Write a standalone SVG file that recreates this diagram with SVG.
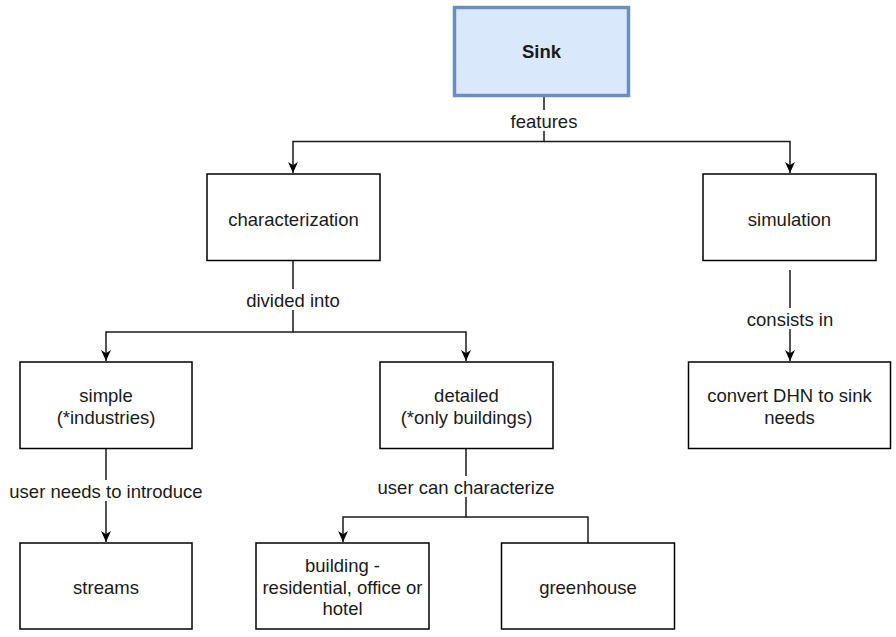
<svg xmlns="http://www.w3.org/2000/svg" width="896" height="637" viewBox="0 0 896 637">
  <style>
    .box { fill: #ffffff; stroke: #000000; stroke-width: 1.5; }
    .root { fill: #dae8fc; stroke: #6c8ebf; stroke-width: 3.5; }
    text { font-family: "Liberation Sans", Arial, sans-serif; font-size: 18.5px; fill: #1a1a1a; text-anchor: middle; dominant-baseline: central; }
    .bold { font-weight: bold; }
    .edge { fill: none; stroke: #1a1a1a; stroke-width: 1.5; }
    .lbl { fill: #ffffff; }
  </style>
  <defs>
    <marker id="arrow" viewBox="0 0 10 10" refX="10" refY="5" markerWidth="11" markerHeight="11" markerUnits="userSpaceOnUse" orient="auto">
      <path d="M0,0.5 L10,5 L0,9.5 L3,5 Z" fill="#000000"/>
    </marker>
  </defs>

  <g id="connectors">
    <path class="edge" d="M544,96 V141.5 H293 V173" marker-end="url(#arrow)"/>
    <path class="edge" d="M544,141.5 H790 V173" marker-end="url(#arrow)"/>
    <path class="edge" d="M293,261 V332 H106 V361" marker-end="url(#arrow)"/>
    <path class="edge" d="M293,332 H466 V361" marker-end="url(#arrow)"/>
    <path class="edge" d="M790,270 V361" marker-end="url(#arrow)"/>
    <path class="edge" d="M106,449 V542" marker-end="url(#arrow)"/>
    <path class="edge" d="M466,449 V517 H343 V542" marker-end="url(#arrow)"/>
    <path class="edge" d="M466,517 H588 V543"/>

    <rect class="lbl" x="506" y="110" width="76" height="21"/>
    <text x="544" y="121">features</text>
    <rect class="lbl" x="241" y="289" width="104" height="21"/>
    <text x="293" y="300">divided into</text>
    <rect class="lbl" x="741" y="308" width="98" height="21"/>
    <text x="790" y="319">consists in</text>
    <rect class="lbl" x="6" y="480" width="201" height="21"/>
    <text x="106" y="491">user needs to introduce</text>
    <rect class="lbl" x="373" y="476" width="186" height="21"/>
    <text x="466" y="487">user can characterize</text>
  </g>

  <g id="sink">
    <rect class="root" x="454.5" y="7.5" width="174" height="88"/>
    <text class="bold" x="541.5" y="51">Sink</text>
  </g>
  <g id="characterization">
    <rect class="box" x="207" y="174" width="173" height="86.5"/>
    <text x="293.5" y="219">characterization</text>
  </g>
  <g id="simulation">
    <rect class="box" x="703" y="174" width="173" height="86.5"/>
    <text x="789.5" y="219">simulation</text>
  </g>
  <g id="simple">
    <rect class="box" x="20" y="362" width="172" height="86.5"/>
    <text x="106" y="395.5">simple</text>
    <text x="106" y="417.5">(*industries)</text>
  </g>
  <g id="detailed">
    <rect class="box" x="380" y="362" width="173" height="86.5"/>
    <text x="466.5" y="395.5">detailed</text>
    <text x="466.5" y="417.5">(*only buildings)</text>
  </g>
  <g id="convert">
    <rect class="box" x="688.5" y="362" width="202" height="86.5"/>
    <text x="789.5" y="395.5">convert DHN to sink</text>
    <text x="789.5" y="417.5">needs</text>
  </g>
  <g id="streams">
    <rect class="box" x="20" y="543" width="172" height="86"/>
    <text x="106" y="587">streams</text>
  </g>
  <g id="building">
    <rect class="box" x="256" y="543" width="173" height="86"/>
    <text x="342.5" y="565">building -</text>
    <text x="342.5" y="587">residential, office or</text>
    <text x="342.5" y="608.5">hotel</text>
  </g>
  <g id="greenhouse">
    <rect class="box" x="501.5" y="543" width="173" height="86"/>
    <text x="588" y="587">greenhouse</text>
  </g>
</svg>
